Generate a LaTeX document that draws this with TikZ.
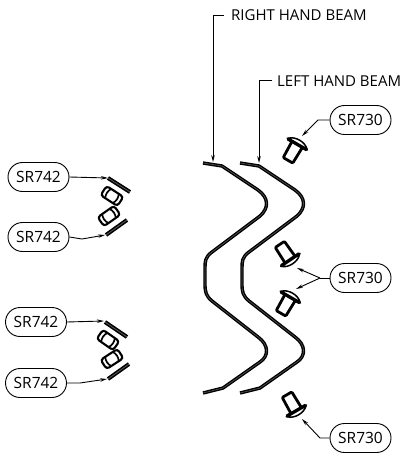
\documentclass[tikz,border=0pt]{standalone}
\usepackage{fontspec}
\setmainfont{Open Sans}
\usetikzlibrary{arrows.meta,shapes.misc}
\tikzset{
  x=1pt,y=-1pt,
  pill/.style={draw=black,line width=0.9pt,rounded rectangle,minimum width=61pt,minimum height=29pt,inner sep=0pt,font=\fontsize{15.5}{17}\selectfont},
  title/.style={anchor=west,inner sep=0pt,font=\fontsize{15}{17}\selectfont},
  lead/.style={draw=black,line width=0.9pt},
  leadarrow/.style={lead,-{Stealth[length=7pt,width=3.5pt]}},
  steel/.style={draw=black,line width=1.4pt,double=black!65,double distance=0.6pt,line join=round,line cap=butt},
  rodline/.style={draw=black,line width=1.6pt,double=black!65,double distance=0.8pt},
  rivet/.pic={
    \draw[black,line width=2.8pt,line join=round,rounded corners=1pt] (-6,2) -- (-5.5,20) -- (5.5,20) -- (6,2);
    \draw[black,line width=3.6pt,line cap=round] (-10.5,1.4) -- (10.5,1.4);
    \draw[black,line width=1.5pt,fill=white] (-10.5,0.6) .. controls (-6,-4.5) and (6,-4.5) .. (10.5,0.6) -- cycle;
  },
  nut/.pic={
    \draw[black,line width=2.1pt,fill=white,rounded corners=3pt] (-10,-5.5) rectangle (10,5.5);
    \draw[black,line width=1.7pt] (-4.5,-5.5) .. controls (-6.5,-2) and (-6.5,2) .. (-4.5,5.5);
    \draw[black,line width=1.7pt] (4.5,-5.5) .. controls (6.5,-2) and (6.5,2) .. (4.5,5.5);
  },
  beam/.pic={
    \draw[steel] (203,163) -- (222,166) -- (258,190)
      .. controls (269,198) and (269,208) .. (260,216) -- (212,252)
      .. controls (205,257) and (205,262) .. (205,268) -- (205,284)
      .. controls (205,292) and (206,296) .. (212,301) -- (258,337)
      .. controls (269,345) and (269,356) .. (260,362) -- (223,388) -- (203,393);
  }
}
\begin{document}
\begin{tikzpicture}
\useasboundingbox (0,0) rectangle (403,454);
% beams
\pic at (0,0) {beam};
\pic at (37,0) {beam};
% rivets
\pic[rotate=-30] at (298,143) {rivet};
\pic[rotate=-146] at (291,261) {rivet};
\pic[rotate=-30] at (291,296) {rivet};
\pic[rotate=-150] at (297,412) {rivet};
% washers
\draw[rodline] (108,178) -- (130,192);
\draw[rodline] (106,235) -- (127,220);
\draw[rodline] (105,322) -- (127,337);
\draw[rodline] (108,379) -- (129,364);
% nuts
\pic[rotate=-33] at (112,196) {nut};
\pic[rotate=35] at (109,216) {nut};
\pic[rotate=-35] at (108,340) {nut};
\pic[rotate=33] at (112,359) {nut};
% labels
\node[pill] (a) at (38.5,177) {SR742};
\node[pill] (b) at (38.5,237) {SR742};
\node[pill] (c) at (36,322) {SR742};
\node[pill] (d) at (36,383) {SR742};
\node[pill] (e) at (360.5,120) {SR730};
\node[pill] (f) at (360.5,278) {SR730};
\node[pill] (g) at (360.5,438) {SR730};
\node[title] (rh) at (231,15) {RIGHT HAND BEAM};
\node[title] (lh) at (277,81) {LEFT HAND BEAM};
% free ends
\coordinate (ta) at (108,178);
\coordinate (tb) at (105,235);
\coordinate (tc) at (104,321);
\coordinate (td) at (107,379);
\coordinate (te) at (302,136);
\coordinate (tf) at (297,268);
\coordinate (tf2) at (296,289);
\coordinate (tg) at (302,419);
\coordinate (jf) at (320,278);
\coordinate (trh) at (213,162);
\coordinate (tlh) at (259,163);
% connectors
\draw[leadarrow] (a.east) -- (ta);
\draw[leadarrow] (b.east) -- (82,239) -- (tb);
\draw[leadarrow] (c.east) -- (tc);
\draw[leadarrow] (d.east) -- (80,383) -- (td);
\draw[leadarrow] (e.west) -- (318,120) -- (te);
\draw[lead] (f.west) -- (jf);
\draw[leadarrow] (jf) -- (tf);
\draw[leadarrow] (jf) -- (tf2);
\draw[leadarrow] (g.west) -- (320,438) -- (tg);
\draw[leadarrow] (224,15) -- (213,15) -- (trh);
\draw[leadarrow] (272,80) -- (259,80) -- (tlh);
\end{tikzpicture}
\end{document}
